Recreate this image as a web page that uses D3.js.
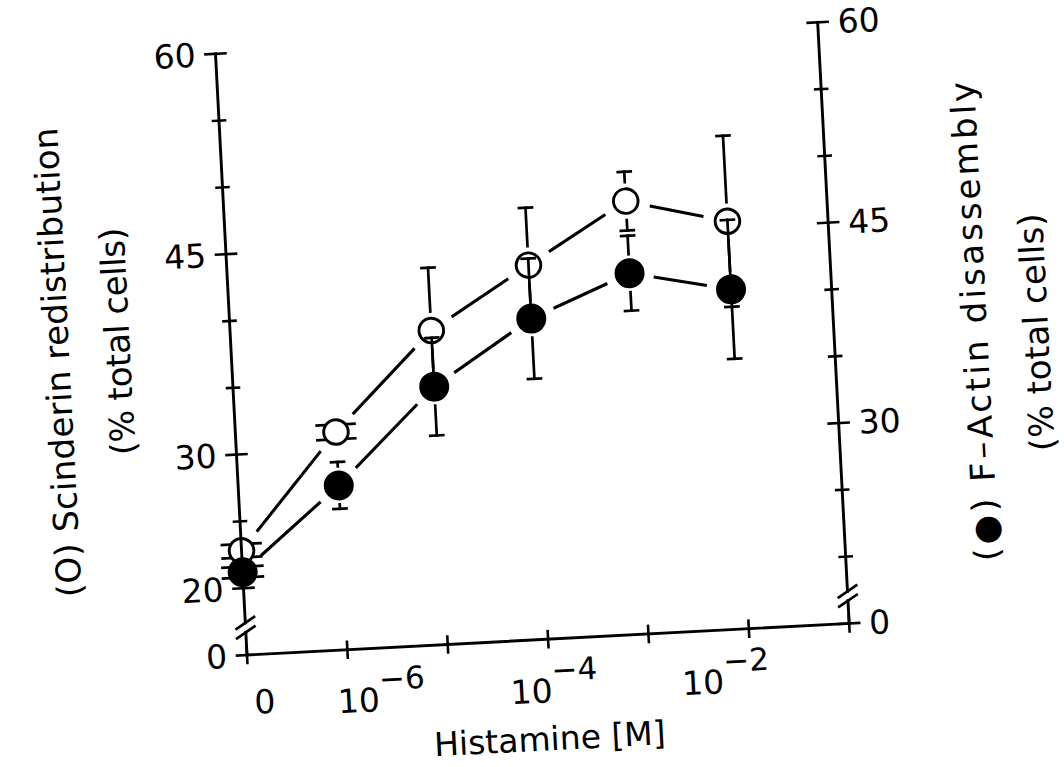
<!DOCTYPE html>
<html>
<head>
<meta charset="utf-8">
<script src="https://cdn.jsdelivr.net/npm/d3@7"></script>
<style>
  body { margin: 0; background: white; }
  text { font-family: "DejaVu Sans", sans-serif; fill: black; }
</style>
</head>
<body>
<div id="wrapper"></div>
<script>
// histamine doses (0 = control, drawn one decade left of 10^-6)
const doses = [0, 1e-6, 1e-5, 1e-4, 1e-3, 1e-2];
const scinderin = [22.8, 31.3, 38.5, 43.0, 47.4, 45.5];
const scinderinErr = [0.5, 0.55, 4.7, 4.3, 2.2, 6.4];
const actin = [21.2, 27.3, 34.3, 39.0, 42.0, 40.4];
const actinErr = [0.4, 1.75, 3.65, 4.5, 2.8, 5.2];

const xTicks = [-7, -6, -5, -4, -3, -2, -1];
const xTickLabels = [["0", ""], ["10", "−6"], ["10", "−4"], ["10", "−2"]];
const xTickLabelAt = [-6.95, -6.12, -4.40, -2.69];
const yTicks = [20, 25, 30, 35, 40, 45, 50, 55, 60];
const leftLabels = [20, 30, 45, 60];
const rightLabels = [30, 45, 60];
const axisBreak = [16.7, 17.4];

(() => {
    const xAccessor = d => d.dose === 0 ? -7 : Math.log10(d.dose);
    const yAccessor = d => d.value;

    const dimensions = {
        width: 1064,
        height: 767,
        origin: { x: 247, y: 655 },
        tilt: -3,
        boundedWidth: 603,
        boundedHeight: 602,
    };

    const xScale = d3.scaleLinear()
        .domain([-7, -1])
        .range([0, dimensions.boundedWidth]);

    const yScale = d3.scaleLinear()
        .domain([15, 60])
        .range([dimensions.boundedHeight, 0]);

    const wrapper = d3.select("#wrapper")
        .append("svg")
        .attr("width", dimensions.width)
        .attr("height", dimensions.height)
        .style("background", "white");

    // the scanned figure is slightly rotated
    const bounds = wrapper.append("g")
        .attr("transform", `translate(${dimensions.origin.x},${dimensions.origin.y}) rotate(${dimensions.tilt}) translate(0,${-dimensions.boundedHeight})`);

    const H = dimensions.boundedHeight;
    const W = dimensions.boundedWidth;

    function line(g, x1, y1, x2, y2, w = 2.8) {
        g.append("line")
            .attr("x1", x1).attr("y1", y1).attr("x2", x2).attr("y2", y2)
            .attr("stroke", "black").attr("stroke-width", w)
            .attr("stroke-linecap", "square");
    }

    function drawYAxis(ax, labels, side) {
        const g = bounds.append("g");
        line(g, ax, yScale(60), ax, yScale(axisBreak[1]), 2.9);
        line(g, ax, yScale(axisBreak[0]), ax, H, 2.9);
        axisBreak.forEach(v => line(g, ax - 9, yScale(v) + 5.5, ax + 9, yScale(v) - 5.5, 2.7));

        yTicks.forEach(t => {
            const big = labels.includes(t);
            line(g, ax - (big ? 10 : 6), yScale(t), ax + (big ? 10 : 6), yScale(t), 2.6);
        });
        line(g, ax - 10, H, ax + (side > 0 ? 10 : 0), H, 2.6);

        g.selectAll("text.tick")
            .data(labels.concat([15]))
            .join("text")
            .attr("class", "tick")
            .attr("x", ax + side * 20)
            .attr("y", d => yScale(d))
            .attr("dy", "0.36em")
            .attr("text-anchor", side < 0 ? "end" : "start")
            .style("font-size", "33px")
            .text(d => d === 15 ? "0" : d);
    }

    function drawXAxis() {
        const g = bounds.append("g");
        line(g, 0, H, W, H, 2.9);
        xTicks.forEach(t => line(g, xScale(t), H - 8, xScale(t), H + 8, 2.6));

        const labels = g.selectAll("text.xtick")
            .data(xTickLabels)
            .join("text")
            .attr("class", "xtick")
            .attr("x", (d, i) => xScale(xTickLabelAt[i]))
            .attr("y", (d, i) => H + (i === 0 ? 59 : 63))
            .style("font-size", "33px");
        labels.append("tspan").text(d => d[0]);
        labels.append("tspan")
            .attr("dy", -21)
            .style("font-size", "31px")
            .text(d => d[1]);

        g.append("text")
            .attr("x", 298)
            .attr("y", H + 111)
            .attr("text-anchor", "middle")
            .style("font-size", "33px")
            .text("Histamine [M]");
    }

    function drawTitle(x, y, str, len) {
        bounds.append("text")
            .attr("transform", `translate(${x},${y}) rotate(-90)`)
            .attr("text-anchor", "middle")
            .attr("textLength", len)
            .attr("lengthAdjust", "spacing")
            .style("font-size", "34px")
            .text(str);
    }

    function points(values, errs) {
        return doses.map((dose, i) => {
            const d = { dose, value: values[i], err: errs[i] };
            d.cx = xScale(xAccessor(d));
            d.cy = yScale(yAccessor(d));
            d.e = yScale(d.value - d.err) - d.cy;
            return d;
        });
    }

    function drawLinks(pts) {
        const gap = 26;
        const g = bounds.append("g");
        d3.pairs(pts).forEach(([a, b]) => {
            const len = Math.hypot(b.cx - a.cx, b.cy - a.cy);
            const ux = (b.cx - a.cx) / len, uy = (b.cy - a.cy) / len;
            line(g, a.cx + ux * gap, a.cy + uy * gap, b.cx - ux * gap, b.cy - uy * gap, 3.1);
        });
    }

    function drawErrors(pts) {
        const barGap = 19, cap = 6.5, R = 14;
        const g = bounds.append("g");
        pts.forEach(d => {
            if (d.e > barGap) {
                [-1, 1].forEach(s => {
                    line(g, d.cx, d.cy + s * barGap, d.cx, d.cy + s * d.e, 2.7);
                    line(g, d.cx - cap, d.cy + s * d.e, d.cx + cap, d.cy + s * d.e, 2.7);
                });
            } else {
                const hw = Math.sqrt(R * R - d.e * d.e);
                [-1, 1].forEach(s => {
                    [-1, 1].forEach(k => {
                        line(g, d.cx + k * hw, d.cy + s * d.e, d.cx + k * (hw + 7), d.cy + s * d.e, 2.7);
                    });
                });
            }
        });
    }

    function drawDots(pts, filled) {
        bounds.append("g")
            .selectAll("circle")
            .data(pts)
            .join("circle")
            .attr("cx", d => d.cx)
            .attr("cy", d => d.cy)
            .attr("r", filled ? 15 : 12.3)
            .attr("fill", filled ? "black" : "none")
            .attr("stroke", "black")
            .attr("stroke-width", filled ? 0 : 2.9);
    }

    drawYAxis(0, leftLabels, -1);
    drawYAxis(W, rightLabels, 1);
    drawXAxis();

    drawTitle(-162, 300, "(O) Scinderin redistribution", 470);
    drawTitle(-101, 282, "(% total cells)", 228);
    drawTitle(756, 307, "(●) F–Actin disassembly", 480);
    drawTitle(817, 321, "(% total cells)", 238);

    const openPts = points(scinderin, scinderinErr);
    const filledPts = points(actin, actinErr);
    drawLinks(openPts);
    drawLinks(filledPts);
    drawErrors(openPts);
    drawErrors(filledPts);
    drawDots(openPts, false);
    drawDots(filledPts, true);
})();
</script>
</body>
</html>
